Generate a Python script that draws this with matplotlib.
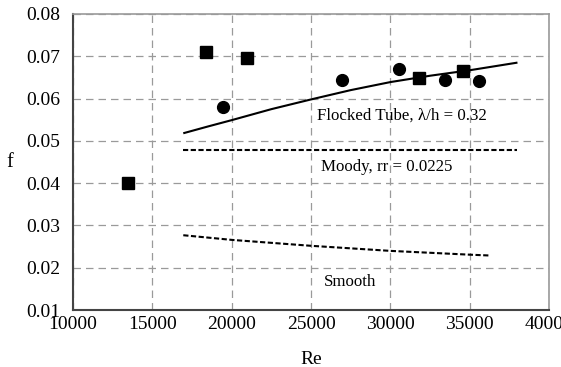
import matplotlib
matplotlib.use("Agg")
import matplotlib.pyplot as plt

# Data
sq_re = [13500, 18400, 20950, 31800, 34600]
sq_f = [0.0400, 0.0710, 0.0695, 0.0648, 0.0664]
ci_re = [19450, 26950, 30550, 33450, 35600]
ci_f = [0.0580, 0.0645, 0.0671, 0.0645, 0.0641]

flock_re = [16950, 18500, 20000, 22500, 25000, 27500, 30000, 32500, 35000, 38000]
flock_f = [0.0518, 0.0534, 0.0549, 0.0575, 0.0598, 0.0620, 0.0639, 0.0654, 0.0667, 0.0685]

moody_re = [16950, 38000]
moody_f = [0.0478, 0.0478]

smooth_re = [16950, 20000, 25000, 30000, 35000, 36300]
smooth_f = [0.0277, 0.0266, 0.0252, 0.0240, 0.0231, 0.0229]

xticks = [10000, 15000, 20000, 25000, 30000, 35000, 40000]
yticks = [0.01, 0.02, 0.03, 0.04, 0.05, 0.06, 0.07, 0.08]

plt.rcParams['font.family'] = ['Liberation Serif', 'DejaVu Serif']

fig = plt.figure(figsize=(5.61, 3.67), dpi=100)
ax = fig.add_axes([0.130, 0.155, 0.849, 0.807])

ax.plot(flock_re, flock_f, color='black', lw=1.5, solid_capstyle='butt')
ax.plot(moody_re, moody_f, color='black', lw=1.5, ls=(0, (2.5, 1.2)))
ax.plot(smooth_re, smooth_f, color='black', lw=1.5, ls=(0, (2.5, 1.2)))
ax.plot(sq_re, sq_f, 's', color='black', ms=8.5, ls='none')
ax.plot(ci_re, ci_f, 'o', color='black', ms=8.5, ls='none')

ax.text(25400, 0.0559, 'Flocked Tube, λ/h = 0.32', fontsize=12.2, va='center', ha='left')
ax.text(25600, 0.0438, 'Moody, rr = 0.0225', fontsize=12.2, va='center', ha='left')
ax.text(25800, 0.0166, 'Smooth', fontsize=12.2, va='center', ha='left')

ax.set_xlim(10000, 40000)
ax.set_ylim(0.01, 0.08)
ax.set_xticks(xticks)
ax.set_yticks(yticks)
ax.set_xticklabels([str(v) for v in xticks])
ax.set_yticklabels([f"{v:.2f}" for v in yticks])
ax.tick_params(axis='both', length=0, labelsize=14)
ax.tick_params(axis='x', pad=4)
ax.tick_params(axis='y', pad=9)

ax.grid(True, color='#9a9a9a', ls=(0, (6, 4)), lw=0.9)
ax.set_axisbelow(True)

for s in ['left', 'bottom']:
    ax.spines[s].set_color('#444444')
    ax.spines[s].set_linewidth(1.5)
for s in ['top', 'right']:
    ax.spines[s].set_color('#9a9a9a')
    ax.spines[s].set_linewidth(1.2)

ax.set_xlabel('Re', fontsize=14, labelpad=13)
ax.set_ylabel('f', fontsize=14.5, rotation=0, labelpad=12, va='center')

fig.savefig('out.png', dpi=100)
